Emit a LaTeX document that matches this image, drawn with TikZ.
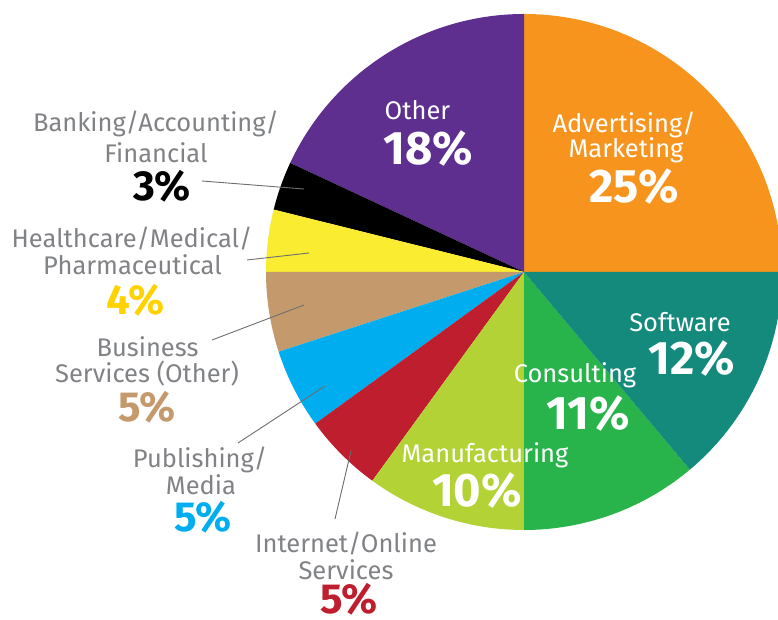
\documentclass[tikz,border=0pt]{standalone}
\usepackage{fontspec}
\setmainfont{Fira Sans}
\usetikzlibrary{arrows}

\definecolor{advorange}{HTML}{F7941E}
\definecolor{otherpurple}{HTML}{5E2F8F}
\definecolor{softteal}{HTML}{138A7C}
\definecolor{consgreen}{HTML}{28B34B}
\definecolor{manugreen}{HTML}{B3D235}
\definecolor{netred}{HTML}{BE1E2D}
\definecolor{pubblue}{HTML}{00AEEF}
\definecolor{busitan}{HTML}{C49A6C}
\definecolor{healthyellow}{HTML}{F9EC31}
\definecolor{healthgold}{HTML}{FFD200}
\definecolor{labelgray}{HTML}{808285}
\definecolor{leadergray}{HTML}{6D6E71}

\begin{document}
\begin{tikzpicture}[x=1pt, y=1pt]
    \tikzstyle{slice label} = [inner sep=0pt, anchor=base, font=\fontsize{25.5}{25.5}\selectfont]
    \tikzstyle{inner label} = [slice label, text=white]
    \tikzstyle{outer label} = [slice label, text=labelgray]
    \tikzstyle{inner pct} = [inner sep=0pt, anchor=base, text=white, font=\fontsize{47}{47}\selectfont\bfseries]
    \tikzstyle{outer pct} = [inner sep=0pt, anchor=base, font=\fontsize{42}{42}\selectfont\bfseries]
    \tikzstyle{leader} = [draw=leadergray, line width=0.9pt]
\useasboundingbox (0,0) rectangle (778,620);
\coordinate (c) at (524, 348);
% slices
\fill[advorange] (c) -- ++(0:258) arc[start angle=0, end angle=90, radius=258] -- cycle;
\fill[otherpurple] (c) -- ++(90:258) arc[start angle=90, end angle=155, radius=258] -- cycle;
\fill[black] (c) -- ++(155:258) arc[start angle=155, end angle=166, radius=258] -- cycle;
\fill[healthyellow] (c) -- ++(166:258) arc[start angle=166, end angle=180, radius=258] -- cycle;
\fill[busitan] (c) -- ++(180:258) arc[start angle=180, end angle=198, radius=258] -- cycle;
\fill[pubblue] (c) -- ++(198:258) arc[start angle=198, end angle=216, radius=258] -- cycle;
\fill[netred] (c) -- ++(216:258) arc[start angle=216, end angle=234, radius=258] -- cycle;
\fill[manugreen] (c) -- ++(234:258) arc[start angle=234, end angle=270, radius=258] -- cycle;
\fill[consgreen] (c) -- ++(270:258) arc[start angle=270, end angle=310, radius=258] -- cycle;
\fill[softteal] (c) -- ++(310:258) arc[start angle=310, end angle=360, radius=258] -- cycle;
% labels inside the pie
\node[inner label] (other) at (417.5, 500) {Other};
\node[inner pct] (other pct) at (428, 455) {18\%};
\node[inner label] (adv1) at (624, 487) {Advertising/};
\node[inner label] (adv2) at (626, 462) {Marketing};
\node[inner pct] (adv pct) at (634, 417) {25\%};
\node[inner label] (soft) at (680, 288) {Software};
\node[inner pct] (soft pct) at (692, 245) {12\%};
\node[inner label] (cons) at (575, 237) {Consulting};
\node[inner pct] (cons pct) at (588, 190) {11\%};
\node[inner label] (manu) at (485, 157) {Manufacturing};
\node[inner pct] (manu pct) at (477, 113) {10\%};
% labels outside the pie
\node[outer label] (bank1) at (156, 488) {Banking/Accounting/};
\node[outer label] (bank2) at (156, 457) {Financial};
\node[outer pct, text=black] (bank pct) at (162, 419) {3\%};
\node[outer label] (health1) at (132, 372) {Healthcare/Medical/};
\node[outer label] (health2) at (132.5, 345) {Pharmaceutical};
\node[outer pct, text=healthgold] (health pct) at (135.5, 305) {4\%};
\node[outer label] (busi1) at (147.5, 263) {Business};
\node[outer label] (busi2) at (147, 237) {Services (Other)};
\node[outer pct, text=busitan] (busi pct) at (147, 198) {5\%};
\node[outer label] (pub1) at (200, 152) {Publishing/};
\node[outer label] (pub2) at (201, 125) {Media};
\node[outer pct, text=pubblue] (pub pct) at (203, 88) {5\%};
\node[outer label] (net1) at (346, 67) {Internet/Online};
\node[outer label] (net2) at (346, 40) {Services};
\node[outer pct, text=netred] (net pct) at (349, 6) {5\%};
% leader lines
\coordinate (bank a) at (202, 439);
\coordinate (bank b) at (304, 431);
\coordinate (health a) at (247, 360);
\coordinate (health b) at (309, 367);
\coordinate (busi a) at (212, 280);
\coordinate (busi b) at (304, 315);
\coordinate (pub a) at (238, 177);
\coordinate (pub b) at (325, 234);
\coordinate (net a) at (335, 101);
\coordinate (net b) at (351, 169);
\draw[leader] (bank a) to (bank b);
\draw[leader] (health a) to (health b);
\draw[leader] (busi a) to (busi b);
\draw[leader] (pub a) to (pub b);
\draw[leader] (net a) to (net b);
\end{tikzpicture}
\end{document}
